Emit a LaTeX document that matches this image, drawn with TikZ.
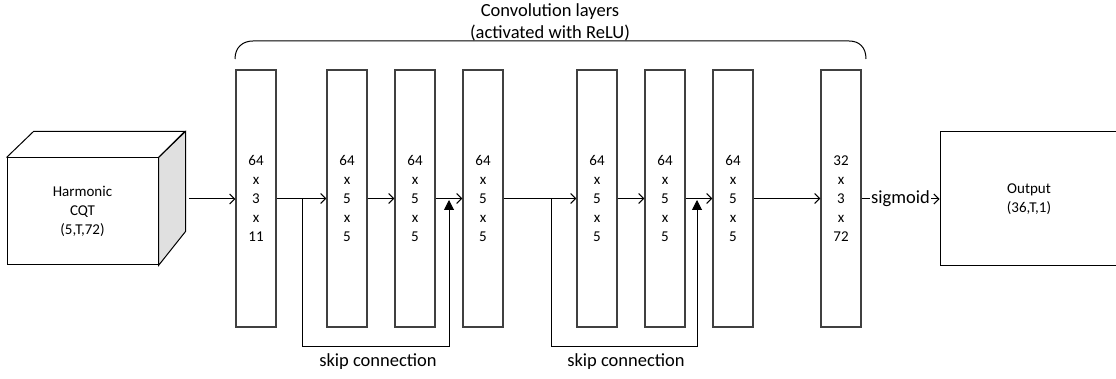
\documentclass[tikz,border=0pt]{standalone}
\usepackage{fontspec}
\setmainfont{Carlito}
\usetikzlibrary{arrows.meta}
\begin{document}
\begin{tikzpicture}[x=1pt,y=-1pt,
  every node/.style={font=\fontsize{15}{19}\selectfont},
  layer/.style={draw=black!75, line width=1.2pt, minimum width=40pt, minimum height=257pt,
                inner sep=0pt, align=center},
  face/.style={draw=black, line width=1pt},
  flow/.style={draw=black, line width=1pt, -{Straight Barb[length=5pt,width=10pt]}},
  skipline/.style={draw=black, line width=1pt, -{Triangle[length=10pt,width=10pt]}},
  biglabel/.style={font=\fontsize{18.5}{22}\selectfont, align=center}
]
\useasboundingbox (0,0) rectangle (1116,379);

% input cube: front face, top and shaded side
\node[face, minimum width=151pt, minimum height=107pt, inner sep=0pt, align=center]
  (cube) at (82.5,211.5) {Harmonic\\CQT\\(5,T,72)};
\draw[face, fill=black!12] (cube.north east) -- ++(27,-26) -- ++(0,100) -- (cube.south east) -- cycle;
\draw[face] (cube.north west) -- ++(27,-26) -- ++(151,0) -- (cube.north east);
\coordinate (cubeout) at (189,199);

% convolution layers
\node[layer] (l1) at (256,198.5) {64\\x\\3\\x\\11};
\node[layer] (l2) at (347,198.5) {64\\x\\5\\x\\5};
\node[layer] (l3) at (415,198.5) {64\\x\\5\\x\\5};
\node[layer] (l4) at (483,198.5) {64\\x\\5\\x\\5};
\node[layer] (l5) at (597,198.5) {64\\x\\5\\x\\5};
\node[layer] (l6) at (665,198.5) {64\\x\\5\\x\\5};
\node[layer] (l7) at (733,198.5) {64\\x\\5\\x\\5};
\node[layer] (l8) at (841,198.5) {32\\x\\3\\x\\72};

% output
\node[face, minimum width=178pt, minimum height=134pt, inner sep=0pt, align=center]
  (out) at (1029,199) {Output\\(36,T,1)};

% forward connections
\draw[flow] (cubeout) -- (l1.west |- cubeout);
\draw[flow] (l1) -- (l2);
\draw[flow] (l2) -- (l3);
\draw[flow] (l3) -- (l4);
\draw[flow] (l4) -- (l5);
\draw[flow] (l5) -- (l6);
\draw[flow] (l6) -- (l7);
\draw[flow] (l7) -- (l8);
\draw[flow] (l8.east |- out.west) -- node[biglabel, fill=white, inner sep=1pt] {sigmoid} (out.west);

% skip connections
\coordinate (s1a) at (302,199);
\coordinate (s1b) at (449,200);
\coordinate (s2a) at (551,199);
\coordinate (s2b) at (697,200);
\draw[skipline] (s1a) -- (302,346) -| (s1b);
\draw[skipline] (s2a) -- (551,346) -| (s2b);
\node[biglabel] (skip1) at (378,362) {skip connection};
\node[biglabel] (skip2) at (626,362) {skip connection};

% brace over the convolution layers
\draw[line width=1pt] (235,59) .. controls (235,47) and (243,41) .. (253,41)
  -- (849,41) .. controls (859,41) and (866,47) .. (866,59);
\node[biglabel] (title) at (550,22)
  {Convolution layers\\(activated with ReLU)};
\end{tikzpicture}
\end{document}
